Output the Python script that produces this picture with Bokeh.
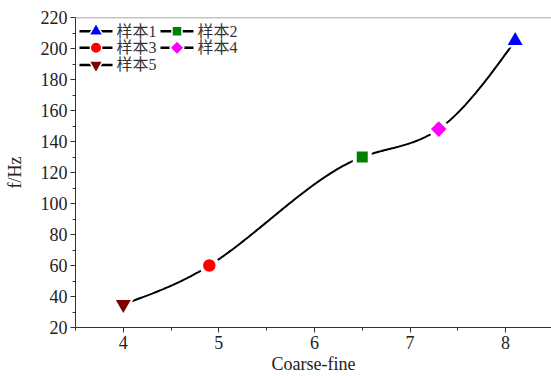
import numpy as np
from bokeh.plotting import figure
from bokeh.models import ColumnDataSource, Span, Range1d, FixedTicker
from bokeh.core.properties import value
from bokeh.embed import file_html
from bokeh.resources import INLINE

# Sample data
coarse_fine = [4.0, 4.9, 6.5, 7.3, 8.1]
freq_hz = [35, 60, 130, 148, 205]
sample_names = ["样本5", "样本3", "样本2", "样本4", "样本1"]
marker_types = ["inverted_triangle", "circle", "square", "square", "triangle"]
marker_angles = [0, 0, 0, np.pi / 4, 0]
marker_colors = ["#800000", "#FF0000", "#008000", "#FF00FF", "#0000FF"]
marker_sizes = [15, 12.5, 11, 11, 15]

# Legend laid out in two columns, row by row
legend_order = ["样本1", "样本2", "样本3", "样本4", "样本5"]

x_ticks = [4, 5, 6, 7, 8]
y_ticks = [20, 40, 60, 80, 100, 120, 140, 160, 180, 200, 220]

SERIF = "'Liberation Serif', 'Times New Roman', serif"
CJK = "'Liberation Serif', 'Noto Sans CJK SC', serif"

# frame geometry (canvas pixels)
W, H = 551, 376
LEFT, RIGHT, TOP, BOTTOM = 75, 551, 17, 334
X0, X1 = 3.5, 8.48
Y0, Y1 = 20, 220


def px_x(px):
    return X0 + (px - LEFT) * (X1 - X0) / (RIGHT - LEFT)


def px_y(py):
    return Y0 + (BOTTOM - py) * (Y1 - Y0) / (BOTTOM - TOP)


def natural_spline(xs, ys, xq):
    xs = np.asarray(xs, float)
    ys = np.asarray(ys, float)
    n = len(xs)
    h = np.diff(xs)
    A = np.zeros((n, n))
    b = np.zeros(n)
    A[0, 0] = A[-1, -1] = 1.0
    for i in range(1, n - 1):
        A[i, i - 1] = h[i - 1]
        A[i, i] = 2 * (h[i - 1] + h[i])
        A[i, i + 1] = h[i]
        b[i] = 6 * ((ys[i + 1] - ys[i]) / h[i] - (ys[i] - ys[i - 1]) / h[i - 1])
    M = np.linalg.solve(A, b)
    out = np.empty_like(xq)
    for k, x in enumerate(xq):
        i = min(max(np.searchsorted(xs, x) - 1, 0), n - 2)
        t0 = xs[i + 1] - x
        t1 = x - xs[i]
        out[k] = (M[i] * t0 ** 3 + M[i + 1] * t1 ** 3) / (6 * h[i]) \
            + (ys[i] / h[i] - M[i] * h[i] / 6) * t0 \
            + (ys[i + 1] / h[i] - M[i + 1] * h[i] / 6) * t1
    return out


p = figure(width=W, height=H, output_backend="svg", toolbar_location=None,
           x_range=Range1d(X0, X1), y_range=Range1d(Y0, Y1),
           min_border_left=LEFT, min_border_right=W - RIGHT,
           min_border_top=TOP, min_border_bottom=H - BOTTOM)
p.outline_line_color = None
p.grid.visible = False
p.background_fill_color = "white"
p.border_fill_color = "white"

# smooth curve through the samples
xs_curve = np.linspace(coarse_fine[0], coarse_fine[-1], 300)
ys_curve = natural_spline(coarse_fine, freq_hz, xs_curve)
p.line(xs_curve, ys_curve, line_color="black", line_width=2)

src = ColumnDataSource(dict(x=coarse_fine, y=freq_hz, marker=marker_types,
                            angle=marker_angles, color=marker_colors,
                            size=marker_sizes,
                            halo=[s + 8 for s in marker_sizes]))
# white halo that opens a gap in the curve around each marker
p.scatter("x", "y", source=src, marker="marker", angle="angle", size="halo",
          fill_color="white", line_color=None)
p.scatter("x", "y", source=src, marker="marker", angle="angle", size="size",
          fill_color="color", line_color=None)

# legend: two columns, three rows
lookup = {n: i for i, n in enumerate(sample_names)}
row_y = [31, 48, 65.5]
col_x = [79, 160]
seg_len, text_gap = 33, 4
lg = dict(x0=[], x1=[], y=[], mx=[], marker=[], angle=[], color=[], size=[],
          tx=[], label=[])
for k, name in enumerate(legend_order):
    r, c = divmod(k, 2)
    i = lookup[name]
    xl = col_x[c]
    lg["x0"].append(px_x(xl))
    lg["x1"].append(px_x(xl + seg_len))
    lg["y"].append(px_y(row_y[r]))
    lg["mx"].append(px_x(xl + seg_len / 2))
    lg["marker"].append(marker_types[i])
    lg["angle"].append(marker_angles[i])
    lg["color"].append(marker_colors[i])
    lg["size"].append(marker_sizes[i] - 1)
    lg["tx"].append(px_x(xl + seg_len + text_gap))
    lg["label"].append(name)
lsrc = ColumnDataSource(lg)
p.segment("x0", "y", "x1", "y", source=lsrc, line_color="black", line_width=2.5)
p.scatter("mx", "y", source=lsrc, marker="marker", angle="angle", size="size",
          fill_color="color", line_color="white", line_width=1.5)
p.text("tx", "y", text="label", source=lsrc, text_font=value(CJK),
       text_font_size="16px", text_baseline="middle", text_align="left",
       text_color="#333333")

p.add_layout(Span(location=Y1, dimension="width", line_color="#888888",
                  line_width=1.5))

for ax in (p.xaxis[0], p.yaxis[0]):
    ax.axis_line_color = "#333333"
    ax.major_tick_line_color = "#333333"
    ax.minor_tick_line_color = "#333333"
    ax.major_tick_in = 0
    ax.major_tick_out = 5
    ax.minor_tick_in = 0
    ax.minor_tick_out = 3
    ax.major_label_text_font = SERIF
    ax.major_label_text_font_size = "18px"
    ax.major_label_text_color = "#222222"
    ax.axis_label_text_font = SERIF
    ax.axis_label_text_font_size = "18px"
    ax.axis_label_text_font_style = "normal"
    ax.axis_label_text_color = "#222222"

p.xaxis.ticker = FixedTicker(ticks=x_ticks,
                             minor_ticks=[3.5, 4.5, 5.5, 6.5, 7.5])
p.yaxis.ticker = FixedTicker(ticks=y_ticks,
                             minor_ticks=list(range(30, 220, 20)))
p.xaxis.axis_label = "Coarse-fine"
p.xaxis.axis_label_standoff = 2
p.xaxis.major_label_standoff = 3
p.yaxis.axis_label = "f/Hz"
p.yaxis.axis_label_standoff = 13
p.yaxis.major_label_standoff = 3

open("out.html", "w").write(file_html(p, INLINE))
